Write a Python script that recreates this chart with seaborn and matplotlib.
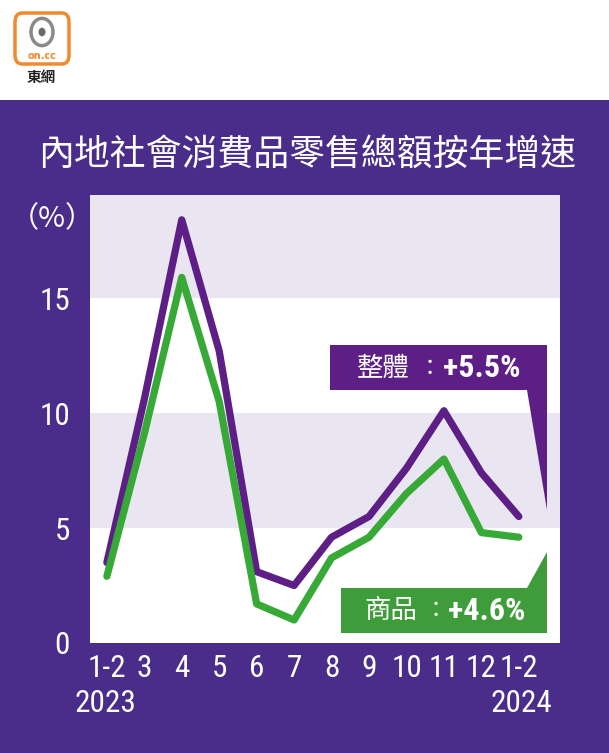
import numpy as np
import pandas as pd
import seaborn as sns
import matplotlib
matplotlib.use("Agg")
import matplotlib.pyplot as plt
from matplotlib import font_manager
from matplotlib.patches import Rectangle, Polygon, FancyBboxPatch, Circle

# ---- data ----
months = ["1-2", "3", "4", "5", "6", "7", "8", "9", "10", "11", "12", "1-2"]
total = [3.5, 10.6, 18.4, 12.7, 3.1, 2.5, 4.6, 5.5, 7.6, 10.1, 7.4, 5.5]
goods = [2.9, 9.1, 15.9, 10.5, 1.7, 1.0, 3.7, 4.6, 6.5, 8.0, 4.8, 4.6]
y_ticks = [0, 5, 10, 15]
years = ["2023", "2024"]
title = "內地社會消費品零售總額按年增速"
series_names = ["整體", "商品"]
label_values = ["+5.5%", "+4.6%"]

sns.set_style("white")
names = {f.name for f in font_manager.fontManager.ttflist}
NUM = "Noto Sans CJK TC"
for cand in ["Roboto Condensed", "Liberation Sans Narrow", "PT Sans Narrow",
             "Archivo Narrow", "Open Sans Condensed", "Encode Sans Condensed", "Fira Sans Condensed"]:
    if cand in names:
        NUM = cand
        break
CJK = "Noto Sans CJK TC"
plt.rcParams["font.family"] = [CJK, "DejaVu Sans"]

W, H = 609, 753
fig = plt.figure(figsize=(W / 100, H / 100), dpi=100)
fig.patch.set_facecolor("white")

def px(x, y):
    return (x / W, 1 - y / H)

BG = "#4a2d8a"
PURPLE = "#5d1f86"
GREEN = "#37a936"
GREEN_BOX = "#3f9c3b"
BAND = "#e9e5f1"

fig.patches.append(Rectangle((0, 0), 1, (H - 100) / H, transform=fig.transFigure,
                             facecolor=BG, edgecolor="none", zorder=0))

# logo
fig.patches.append(FancyBboxPatch(px(15, 64), 54 / W, 51 / H, boxstyle="round,pad=0,rounding_size=0.012",
                                  transform=fig.transFigure, facecolor="white",
                                  edgecolor="#ef8a2e", linewidth=2.5, zorder=2))
fig.patches.append(Circle(px(42, 32), 11 / W, transform=fig.transFigure, facecolor="none",
                          edgecolor="#8a8a8a", linewidth=2.5, zorder=3))
fig.patches.append(Circle(px(42, 32), 3.5 / W, transform=fig.transFigure, facecolor="#6a6a6a",
                          edgecolor="none", zorder=3))
fig.text(*px(42, 56), "on.cc", color="#ef8a2e", fontsize=7, fontweight="bold",
         ha="center", va="center", family="DejaVu Sans", zorder=4)
fig.text(*px(41, 77), "東網", color="#222222", fontsize=10.5, fontweight="bold",
         ha="center", va="center", zorder=4)

# title
fig.text(*px(307, 155), title, color="white", fontsize=25.8, ha="center", va="center")

# axes
ax = fig.add_axes([90 / W, (H - 643) / H, 470 / W, 448 / H])
ax.set_zorder(2)
ax.set_facecolor("white")
ymax = 19.48
for lo in [5, 15]:
    ax.axhspan(lo, min(lo + 5, ymax), color=BAND, zorder=0, lw=0)

df = pd.DataFrame({
    "x": list(range(len(months))) * 2,
    "value": total + goods,
    "series": [series_names[0]] * len(total) + [series_names[1]] * len(goods),
})
sns.lineplot(data=df, x="x", y="value", hue="series",
             palette={series_names[0]: PURPLE, series_names[1]: GREEN},
             linewidth=5.2, ax=ax, legend=False, zorder=3)
for ln in ax.lines:
    ln.set_solid_joinstyle("round")
    ln.set_solid_capstyle("round")

ax.set_xlim(-0.45, 12.1)
ax.set_ylim(0, ymax)
ax.set_xticks(range(len(months)))
ax.set_xticklabels(months)
ax.set_yticks(y_ticks)
ax.set_yticklabels([str(v) for v in y_ticks])
ax.set_xlabel("")
ax.set_ylabel("")
for s in ax.spines.values():
    s.set_visible(False)
ax.tick_params(axis="both", colors="white", labelcolor="white", labelsize=22.5,
               width=1.5, direction="out")
ax.tick_params(axis="x", length=6, pad=2)
ax.tick_params(axis="y", length=8, pad=6.5)
for lab in ax.get_xticklabels() + ax.get_yticklabels():
    lab.set_family(NUM)
ax.grid(False)

fig.text(*px(52, 219), "（%）", color="white", fontsize=21, ha="center", va="center")
fig.text(*px(105, 704), years[0], color="white", fontsize=22.5, ha="center", va="center", family=NUM)
fig.text(*px(521, 704), years[1], color="white", fontsize=22.5, ha="center", va="center", family=NUM)

# callouts (figure overlays)
poly1 = [px(330, 345), px(547, 345), px(547, 510), px(527, 390), px(330, 390)]
fig.patches.append(Polygon(poly1, closed=True, transform=fig.transFigure,
                           facecolor=PURPLE, edgecolor="none", zorder=5))
poly2 = [px(341, 633), px(547, 633), px(547, 552), px(527, 588), px(341, 588)]
fig.patches.append(Polygon(poly2, closed=True, transform=fig.transFigure,
                           facecolor=GREEN_BOX, edgecolor="none", zorder=5))

fig.text(*px(357, 368), series_names[0], color="white", fontsize=19, ha="left", va="center", zorder=6)
fig.text(*px(430, 368), "：", color="white", fontsize=16, ha="center", va="center", zorder=6)
fig.text(*px(443, 368), label_values[0], color="white", fontsize=23, fontweight="bold",
         ha="left", va="center", family=NUM, zorder=6)
fig.text(*px(364, 611), series_names[1], color="white", fontsize=19, ha="left", va="center", zorder=6)
fig.text(*px(436, 611), "：", color="white", fontsize=16, ha="center", va="center", zorder=6)
fig.text(*px(448, 611), label_values[1], color="white", fontsize=23, fontweight="bold",
         ha="left", va="center", family=NUM, zorder=6)

fig.savefig("out.png", dpi=100, facecolor=fig.get_facecolor())
